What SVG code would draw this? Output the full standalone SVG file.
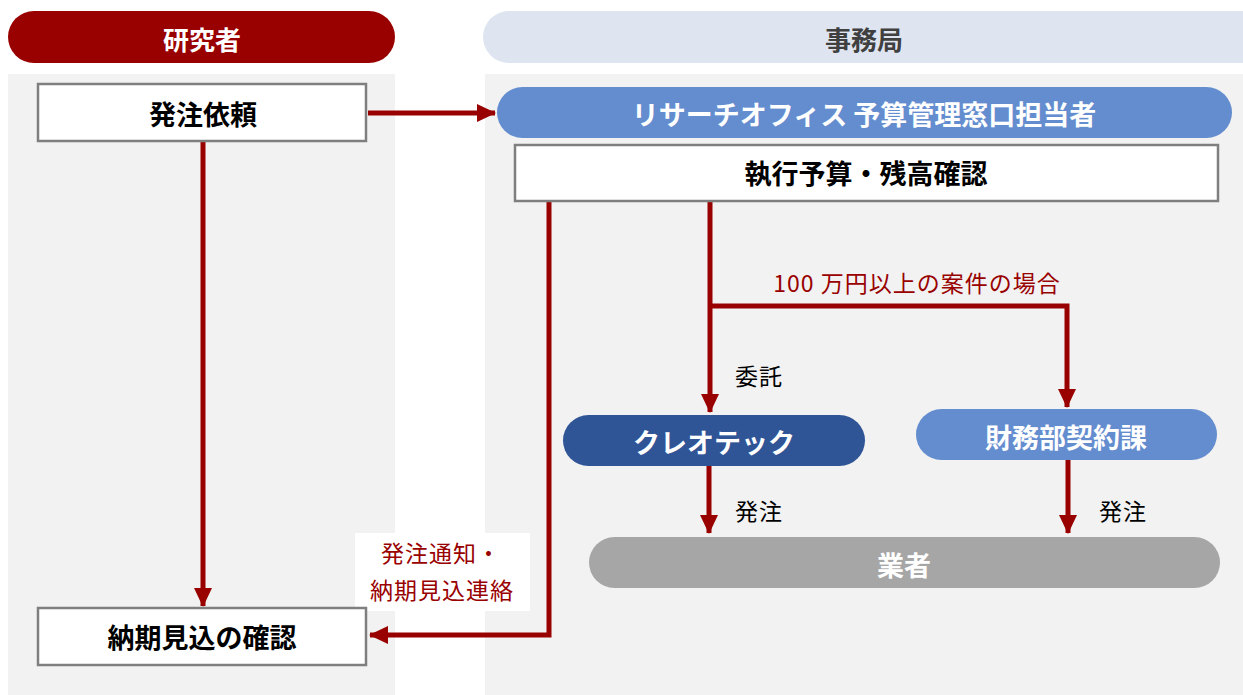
<svg xmlns="http://www.w3.org/2000/svg" width="1243" height="695" viewBox="0 0 1243 695">
<style>
text{font-family:"Noto Sans CJK JP","Noto Sans",sans-serif;dominant-baseline:central;text-anchor:middle}
.b{font-weight:bold;font-size:27px}
.w{fill:#fff}
.k{fill:#000}
.r{fill:#990000}
.lbl{font-size:23px;letter-spacing:1px}
.box{fill:#fff;stroke:#7f7f7f;stroke-width:2.5}
.con{fill:none;stroke:#990000;stroke-width:5}
</style>
<defs>
<marker id="ah" markerUnits="userSpaceOnUse" markerWidth="20" markerHeight="20" viewBox="0 0 20 20" refX="18" refY="10" orient="auto">
<path d="M0,1 L19,10 L0,19 Z" fill="#990000"/>
</marker>
</defs>
<rect width="1243" height="695" fill="#fff"/>
<g id="lane-left">
<rect x="8" y="74" width="387" height="621" fill="#f2f2f2"/>
<rect x="8" y="11" width="387" height="52" rx="26" fill="#990000"/>
<text x="202" y="38" class="b w" style="font-size:26px">研究者</text>
</g>
<g id="lane-right">
<rect x="485" y="74" width="758" height="621" fill="#f2f2f2"/>
<rect x="483" y="11" width="790" height="52" rx="26" fill="#dee5f1"/>
<text x="864" y="38" class="b" style="font-size:26px;fill:#404040">事務局</text>
</g>
<g id="connectors">
<path class="con" d="M368,113 H495" marker-end="url(#ah)"/>
<path class="con" d="M203,142 V606" marker-end="url(#ah)"/>
<path class="con" d="M549,202 V635 H370" marker-end="url(#ah)"/>
<path class="con" d="M710,202 V412" marker-end="url(#ah)"/>
<path class="con" d="M710,306 H1067 V407" marker-end="url(#ah)"/>
<path class="con" d="M709,466 V533" marker-end="url(#ah)"/>
<path class="con" d="M1068,460 V533" marker-end="url(#ah)"/>
</g>
<g id="labels">
<text x="917" y="282" class="lbl r">100 万円以上の案件の場合</text>
<text x="759" y="375" class="lbl k">委託</text>
<text x="759" y="510" class="lbl k">発注</text>
<text x="1123" y="510" class="lbl k">発注</text>
<rect x="355" y="533" width="175" height="78" fill="#fff"/>
<text x="441" y="552" class="lbl r">発注通知・</text>
<text x="442" y="589" class="lbl r">納期見込連絡</text>
</g>
<g id="node-hatchu-irai">
<rect x="38" y="84" width="328" height="57" class="box"/>
<text x="203" y="113" class="b k">発注依頼</text>
</g>
<g id="node-research-office">
<rect x="497" y="87" width="735" height="51" rx="25.5" fill="#648dcf"/>
<text x="864" y="113" class="b w">リサーチオフィス 予算管理窓口担当者</text>
</g>
<g id="node-budget-check">
<rect x="515" y="145" width="703" height="56" class="box"/>
<text x="866" y="172" class="b k">執行予算・残高確認</text>
</g>
<g id="node-creotech">
<rect x="563" y="415" width="302" height="51" rx="25.5" fill="#2f5597"/>
<text x="714" y="441" class="b w">クレオテック</text>
</g>
<g id="node-zaimu">
<rect x="916" y="409" width="301" height="51" rx="25.5" fill="#648dcf"/>
<text x="1066" y="436" class="b w">財務部契約課</text>
</g>
<g id="node-gyosha">
<rect x="589" y="537" width="631" height="51" rx="25.5" fill="#a6a6a6"/>
<text x="904" y="564" class="b w">業者</text>
</g>
<g id="node-nouki">
<rect x="38" y="608" width="328" height="57" class="box"/>
<text x="202" y="636" class="b k">納期見込の確認</text>
</g>
</svg>
